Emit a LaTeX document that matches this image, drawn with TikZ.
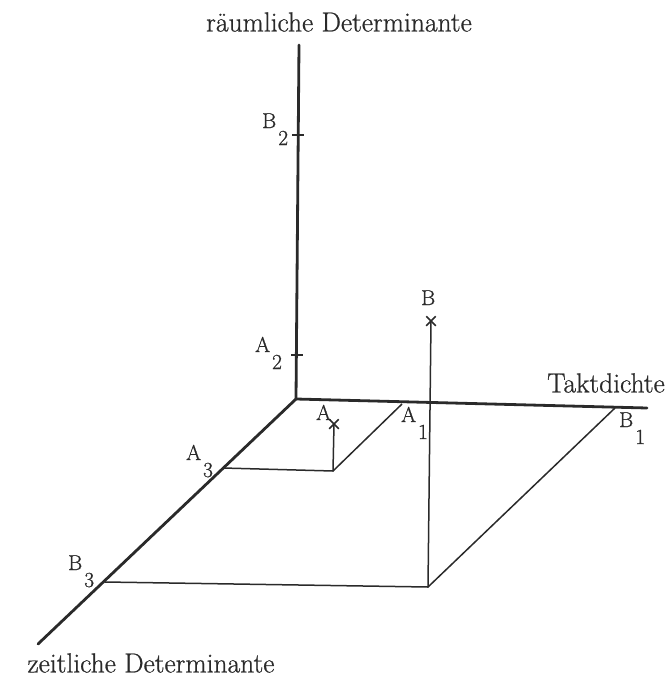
\documentclass[tikz,border=0pt]{standalone}
\usepackage{fontspec}
\setmainfont{Latin Modern Roman}[FakeBold=0.8, BoldFont={*}]
\usetikzlibrary{shapes.misc}
\definecolor{ink}{HTML}{2A2A2A}
\newcommand{\sublbl}[2]{#1\hspace{2pt}\raisebox{-17pt}{#2}}
\begin{document}
\begin{tikzpicture}[x=1pt,y=-1pt,
  axis/.style={line width=2.8pt, draw=ink, line cap=round},
  thinline/.style={line width=1.5pt, draw=ink},
  lbl/.style={font=\fontsize{21.5}{24}\selectfont\bfseries, inner sep=0pt, text=ink, anchor=base west},
  ttl/.style={font=\fontsize{27.5}{30}\selectfont\bfseries, inner sep=0pt, text=ink},
  xm/.style={cross out, draw=ink, line width=1.5pt, minimum size=8pt, inner sep=0pt},
  tickmark/.style={line width=1.5pt, draw=ink}]
\useasboundingbox (0,0) rectangle (671,678);
% axes
\coordinate (O) at (296,399);
\coordinate (Ytop) at (299,45);
\coordinate (Xend) at (647,408);
\coordinate (Zend) at (38,644);
\draw[axis] (O) -- (Ytop);
\draw[axis] (O) -- (Xend);
\draw[axis] (O) -- (Zend);
% points on axes
\coordinate (A1) at (402,404);
\coordinate (B1) at (615,408);
\coordinate (A2) at (297,355);
\coordinate (B2) at (298,135);
\coordinate (A3) at (223,468);
\coordinate (B3) at (105,582);
\coordinate (Ac) at (333,471);
\coordinate (Bc) at (428,587);
% ticks
\draw[tickmark] ([xshift=-6pt]A2) -- ([xshift=6pt]A2);
\draw[tickmark] ([xshift=-6pt]B2) -- ([xshift=6pt]B2);
% crosses
\node[xm] (Ax) at (334,424) {};
\node[xm] (Bx) at (431,321) {};
% parallelograms
\draw[thinline] (A3) -- (Ac) -- (A1);
\draw[thinline] (Ac) -- (Ax.center);
\draw[thinline] (B3) -- (Bc) -- (B1);
\draw[thinline] (Bc) -- (Bx.center);
% labels
\node[ttl] (tr) at (339,22) {räumliche Determinante};
\node[ttl] (tt) at (606,383) {Taktdichte};
\node[ttl] (tz) at (151,663) {zeitliche Determinante};
\node[lbl] (lB2) at (262,128) {\sublbl{B}{2}};
\node[lbl] (lA2) at (255,352) {\sublbl{A}{2}};
\node[lbl] (lA3) at (186,460) {\sublbl{A}{3}};
\node[lbl] (lB3) at (68,570) {\sublbl{B}{3}};
\node[lbl] (lA1) at (401,422) {\sublbl{A}{1}};
\node[lbl] (lB1) at (619,427) {\sublbl{B}{1}};
\node[lbl] (lA) at (316,420) {A};
\node[lbl] (lB) at (421,305) {B};
\end{tikzpicture}
\end{document}
